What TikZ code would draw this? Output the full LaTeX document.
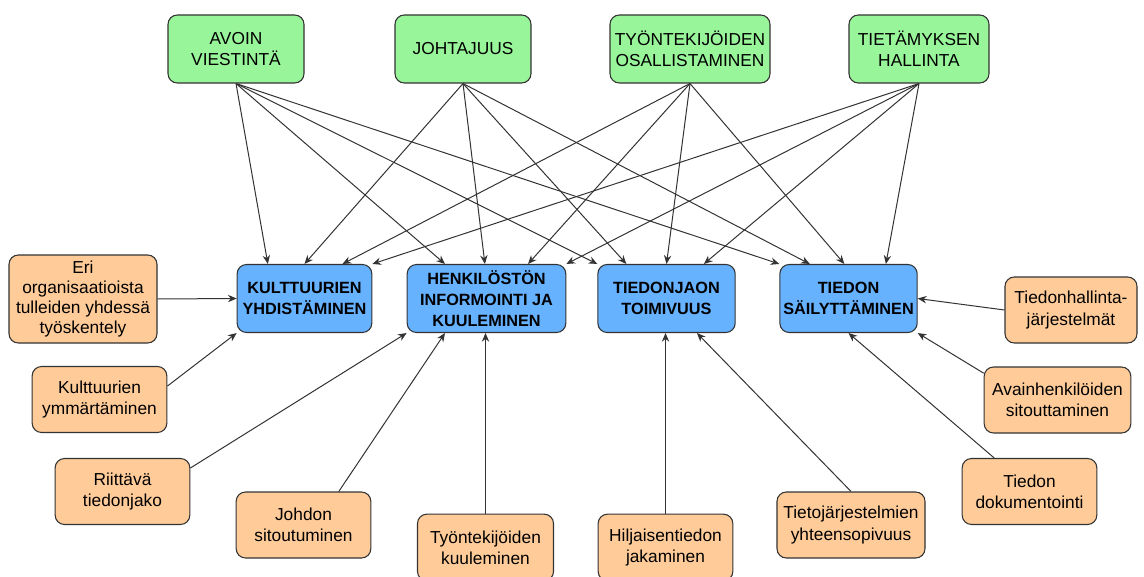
\documentclass[tikz,border=0pt]{standalone}
\usepackage{fontspec}
\setmainfont{Liberation Sans}
\usetikzlibrary{calc,arrows.meta}

\definecolor{topgreen}{HTML}{99F599}
\definecolor{midblue}{HTML}{66B2FF}
\definecolor{factororange}{HTML}{FFCC99}
\definecolor{edgegray}{HTML}{333333}

\tikzset{
  box/.style={draw=edgegray, rounded corners=7pt, line width=0.8pt, align=center, inner sep=1pt},
  topbox/.style={box, fill=topgreen, minimum height=51pt, font=\fontsize{13}{15.5}\selectfont},
  midbox/.style={box, fill=midblue, minimum height=51pt, font=\fontsize{12.2}{15.5}\selectfont\bfseries},
  factor/.style={box, fill=factororange, minimum height=49.5pt, font=\fontsize{13}{16}\selectfont},
  link/.style={-{Stealth[length=6.5pt,width=5.5pt]}, draw=edgegray, line width=0.75pt}
}

\begin{document}
\begin{tikzpicture}[x=0.75pt, y=-0.75pt]
    \useasboundingbox (0,0) rectangle (1144,577);

    \node[topbox, minimum width=102pt] (avoin) at (236,49) {AVOIN\\VIESTINTÄ};
    \node[topbox, minimum width=102pt] (johtajuus) at (463,49) {JOHTAJUUS};
    \node[topbox, minimum width=120pt] (osallist) at (690,49) {TYÖNTEKIJÖIDEN\\OSALLISTAMINEN};
    \node[topbox, minimum width=105pt] (tietamys) at (919,49) {TIETÄMYKSEN\\HALLINTA};

    \node[midbox, minimum width=101pt] (kult) at (304.5,298.5) {KULTTUURIEN\\YHDISTÄMINEN};
    \node[midbox, minimum width=119pt] (henk) at (486.5,298.5) {HENKILÖSTÖN\\INFORMOINTI JA\\KUULEMINEN};
    \node[midbox, minimum width=103pt] (jako) at (666.5,298.5) {TIEDONJAON\\TOIMIVUUS};
    \node[midbox, minimum width=103pt] (sail) at (848.5,298.5) {TIEDON\\SÄILYTTÄMINEN};

    \node[factor, minimum width=111pt, minimum height=66pt, font=\fontsize{13}{14.8}\selectfont] (eri) at (83,299) {Eri\\organisaatioista\\tulleiden yhdessä\\työskentely};
    \node[factor, minimum width=101pt] (ymmart) at (99.5,399.5) {Kulttuurien\\ymmärtäminen};
    \node[factor, minimum width=101pt] (tiedonjako) at (122.5,491.5) {Riittävä\\tiedonjako};
    \node[factor, minimum width=101pt] (johdon) at (303.5,525) {Johdon\\sitoutuminen};
    \node[factor, minimum width=102pt, minimum height=50pt] (kuuleminen) at (485.5,547.5) {Työntekijöiden\\kuuleminen};
    \node[factor, minimum width=101pt, minimum height=50pt] (hiljainen) at (665.5,547.5) {Hiljaisentiedon\\jakaminen};
    \node[factor, minimum width=111pt] (yhteenso) at (851,525) {Tietojärjestelmien\\yhteensopivuus};
    \node[factor, minimum width=101pt] (dokument) at (1029.5,491.5) {Tiedon\\dokumentointi};
    \node[factor, minimum width=110pt] (avain) at (1057.5,400) {Avainhenkilöiden\\sitouttaminen};
    \node[factor, minimum width=99pt] (jarjest) at (1071,310) {Tiedonhallinta-\\järjestelmät};

    \draw[link] (avoin.south) -- ($(kult.north west)!0.23!(kult.north east)$);
    \draw[link] (avoin.south) -- ($(henk.north west)!0.24!(henk.north east)$);
    \draw[link] (avoin.south) -- (jako.north west);
    \draw[link] (avoin.south) -- (sail.north west);

    \draw[link] (johtajuus.south) -- ($(kult.north west)!0.5!(kult.north east)$);
    \draw[link] (johtajuus.south) -- ($(henk.north west)!0.49!(henk.north east)$);
    \draw[link] (johtajuus.south) -- ($(jako.north west)!0.21!(jako.north east)$);
    \draw[link] (johtajuus.south) -- ($(sail.north west)!0.22!(sail.north east)$);

    \draw[link] (osallist.south) -- ($(kult.north west)!0.78!(kult.north east)$);
    \draw[link] (osallist.south) -- ($(henk.north west)!0.76!(henk.north east)$);
    \draw[link] (osallist.south) -- ($(jako.north west)!0.5!(jako.north east)$);
    \draw[link] (osallist.south) -- ($(sail.north west)!0.47!(sail.north east)$);

    \draw[link] (tietamys.south) -- (kult.north east);
    \draw[link] (tietamys.south) -- (henk.north east);
    \draw[link] (tietamys.south) -- ($(jako.north west)!0.77!(jako.north east)$);
    \draw[link] (tietamys.south) -- ($(sail.north west)!0.77!(sail.north east)$);

    \draw[link] (eri.east) -- (kult.west);
    \draw[link] ($(ymmart.north east)!0.3!(ymmart.south east)$) -- (kult.south west);
    \draw[link] ($(tiedonjako.north east)!0.15!(tiedonjako.south east)$) -- (henk.south west);
    \draw[link] ($(johdon.north west)!0.76!(johdon.north east)$) -- ($(henk.south west)!0.24!(henk.south east)$);
    \draw[link] (kuuleminen.north) -- (kuuleminen.north |- henk.south);
    \draw[link] (hiljainen.north) -- (hiljainen.north |- jako.south);
    \draw[link] (yhteenso.north) -- ($(jako.south west)!0.72!(jako.south east)$);
    \draw[link] ($(dokument.north west)!0.24!(dokument.north east)$) -- (sail.south);
    \draw[link] ($(avain.north west)!0.1!(avain.south west)$) -- (sail.south east);
    \draw[link] (jarjest.west) -- (sail.east);
\end{tikzpicture}
\end{document}
